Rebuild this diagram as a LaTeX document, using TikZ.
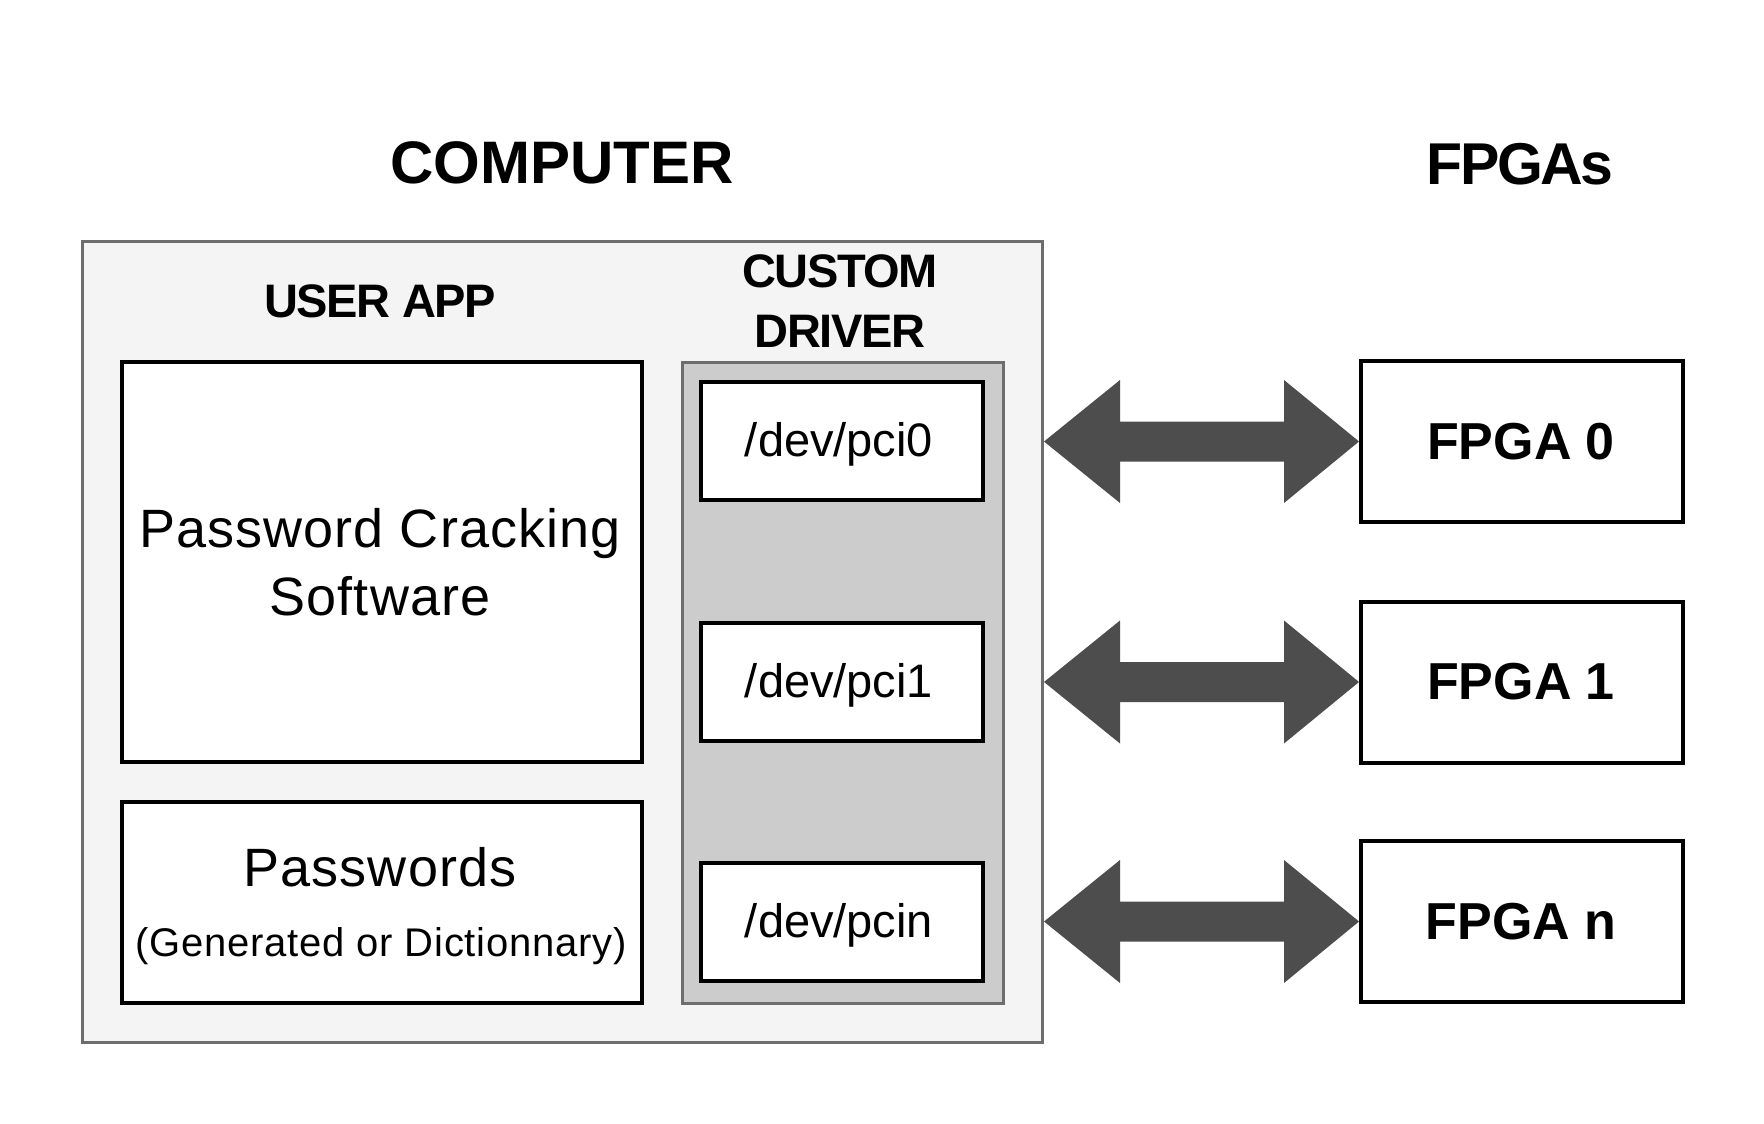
\documentclass[tikz,border=0pt]{standalone}
\usepackage{fontspec}
\setmainfont{Liberation Sans}
\usetikzlibrary{calc}
\definecolor{outerfill}{HTML}{F4F4F4}
\definecolor{graystroke}{HTML}{6D6D6D}
\definecolor{drvfill}{HTML}{CCCCCC}
\definecolor{arrowfill}{HTML}{4D4D4D}
\newcommand{\fsz}[1]{\fontsize{#1}{#1}\selectfont}
\begin{document}
\begin{tikzpicture}[x=1pt,y=-1pt,
  every node/.style={inner sep=0pt,outer sep=0pt},
  box/.style={draw=black,line width=4pt,fill=white,rectangle},
  graybox/.style={draw=graystroke,line width=3pt,rectangle},
  txt/.style={anchor=base,text=black},
  title/.style={txt,font=\fsz{60}\bfseries},
  head/.style={txt,font=\fsz{47}\bfseries\addfontfeature{LetterSpace=-3}},
  big/.style={txt,font=\fsz{54}\addfontfeature{LetterSpace=2}},
  dev/.style={txt,font=\fsz{47}},
  fpgatxt/.style={txt,font=\fsz{52}\bfseries},
  blockarrow/.style={fill=arrowfill}]
\useasboundingbox[fill=white] (0,0) rectangle (1764,1124);

% titles
\node[title] (tcomp) at (562,183) {COMPUTER};
\node[txt,font=\fsz{59}\bfseries\addfontfeature{LetterSpace=-4}] (tfpgas) at (1520,184) {FPGAs};

% computer frame
\node[graybox,fill=outerfill,minimum width=960pt,minimum height=801pt] (computer) at (562,641.5) {};
\node[head] (tuser) at (380,317) {USER APP};
\node[head] (tcustom) at (840,287) {CUSTOM};
\node[head] (tdriver) at (840,347) {DRIVER};

% user app boxes
\node[box,minimum width=520pt,minimum height=400pt] (pcs) at (382,562) {};
\node[big] (tpcs1) at (380,547) {Password Cracking};
\node[big] (tpcs2) at (380,615) {Software};

\node[box,minimum width=520pt,minimum height=201pt] (pw) at (382,902.5) {};
\node[big] (tpw1) at (380,886) {Passwords};
\node[txt,font=\fsz{40}\addfontfeature{LetterSpace=2}] (tpw2) at (381,956) {(Generated or Dictionnary)};

% driver
\node[graybox,fill=drvfill,minimum width=321pt,minimum height=641pt] (drv) at (842.5,682.5) {};
\node[box,minimum width=282pt,minimum height=118pt] (pci0) at (842,441) {};
\node[box,minimum width=282pt,minimum height=118pt] (pci1) at (842,682) {};
\node[box,minimum width=282pt,minimum height=118pt] (pcin) at (842,922) {};
\node[dev] (tpci0) at (839,456) {/dev/pci0};
\node[dev] (tpci1) at (839,697) {/dev/pci1};
\node[dev] (tpcin) at (839,937) {/dev/pcin};

% FPGAs
\node[box,minimum width=322pt,minimum height=161pt] (fpga0) at (1522,441.5) {};
\node[box,minimum width=322pt,minimum height=161pt] (fpga1) at (1522,682) {};
\node[box,minimum width=322pt,minimum height=161pt] (fpgan) at (1522,921.5) {};
\node[fpgatxt] (tf0) at (1521,459) {FPGA 0};
\node[fpgatxt] (tf1) at (1521,699) {FPGA 1};
\node[fpgatxt] (tfn) at (1521,939) {FPGA n};

% double block arrows between the computer frame and each FPGA
\foreach \f in {fpga0,fpga1,fpgan}{
  \coordinate (L\f) at ([xshift=2pt]computer.east |- \f.west);
  \coordinate (R\f) at ([xshift=-2pt]\f.west);
  \fill[blockarrow] let \p1=(L\f), \p2=(R\f) in
    (\x1,\y1) -- (\x1+76pt,\y1+61.5pt) -- (\x1+76pt,\y1+20pt) -- (\x2-75pt,\y1+20pt)
    -- (\x2-75pt,\y1+61.5pt) -- (\x2,\y1) -- (\x2-75pt,\y1-61.5pt) -- (\x2-75pt,\y1-20pt)
    -- (\x1+76pt,\y1-20pt) -- (\x1+76pt,\y1-61.5pt) -- cycle;
}
\end{tikzpicture}
\end{document}
